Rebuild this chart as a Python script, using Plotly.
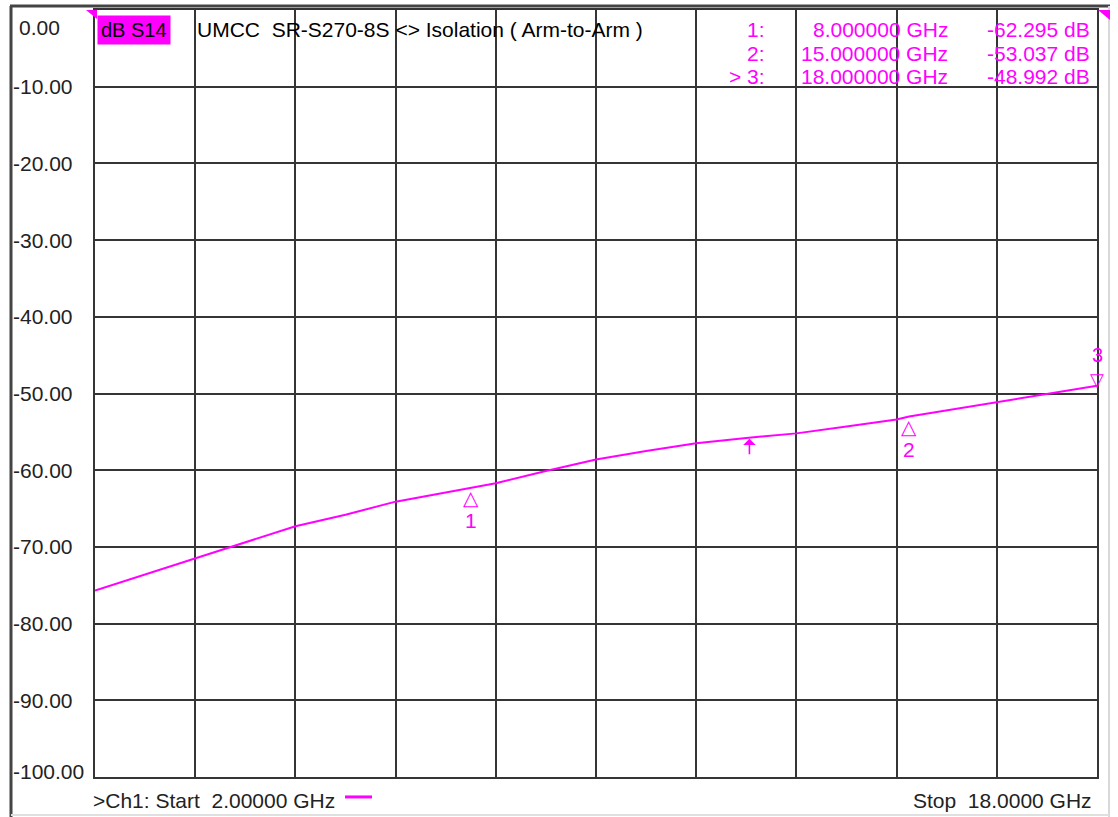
import plotly.graph_objects as go

# ---- data ----
freq_ghz = [2.0, 2.8, 3.6, 4.4, 5.2, 6.0, 6.8, 7.6, 8.0, 8.4, 9.2, 10.0, 10.8,
            11.6, 12.4, 13.2, 14.0, 14.8, 15.0, 15.6, 16.4, 17.2, 18.0]
s14_db = [-75.7, -73.6, -71.5, -69.4, -67.3, -65.8, -64.1, -62.9, -62.3, -61.7,
          -60.1, -58.6, -57.5, -56.5, -55.8, -55.2, -54.3, -53.4, -53.0, -52.2,
          -51.2, -50.1, -49.0]

marker_names = ["1", "2", "3"]
marker_freq = [8.0, 15.0, 18.0]
marker_db = [-62.295, -53.037, -48.992]
active_marker = "3"

ref_marker_freq = 12.45
ref_marker_db = -55.9

y_ticks = [0, -10, -20, -30, -40, -50, -60, -70, -80, -90, -100]
y_tick_labels = ["0.00", "-10.00", "-20.00", "-30.00", "-40.00", "-50.00",
                 "-60.00", "-70.00", "-80.00", "-90.00", "-100.00"]
x_start, x_stop, x_div = 2.0, 18.0, 10

title_param = "dB S14"
title_text = "UMCC&nbsp;&nbsp;SR-S270-8S &lt;&gt; Isolation ( Arm-to-Arm )"
start_text = "&gt;Ch1: Start&nbsp;&nbsp;2.00000 GHz"
stop_text = "Stop&nbsp;&nbsp;18.0000 GHz"

# ---- layout geometry ----
W, H = 1118, 817
L, R, T, B = 95, 1097, 8, 777
MAG = "#FF00FF"
GRID = "#353535"
FONT = "Liberation Sans"


def px(xp):
    return (xp - L) / (R - L)


def py(yp):
    return (B - yp) / (B - T)


fig = go.Figure()
fig.add_trace(go.Scatter(x=freq_ghz, y=s14_db, mode="lines",
                         line=dict(color=MAG, width=2), hoverinfo="skip",
                         showlegend=False))

ann = []
# y tick labels
for i, (v, lab) in enumerate(zip(y_ticks, y_tick_labels)):
    ys = 0
    xs = 0
    if i == 0:
        ys = -17
        xs = 6
    elif i == len(y_ticks) - 1:
        ys = 6
    ann.append(dict(x=px(11), xref="paper", y=v, yref="y", text=lab,
                    xanchor="left", yanchor="middle", showarrow=False,
                    xshift=xs, yshift=ys,
                    font=dict(family=FONT, size=21, color="#222")))

# header
ann.append(dict(x=px(97), xref="paper", y=py(28), yref="paper", text=title_param,
                xanchor="left", yanchor="middle", showarrow=False,
                bgcolor=MAG, borderpad=3,
                font=dict(family=FONT, size=20, color="#000")))
ann.append(dict(x=px(195), xref="paper", y=py(28), yref="paper", text=title_text,
                xanchor="left", yanchor="middle", showarrow=False,
                font=dict(family=FONT, size=21, color="#000")))

# marker readout
row_y = [28, 52, 75]
for i, (n, f, d) in enumerate(zip(marker_names, marker_freq, marker_db)):
    lab = ("&gt; " if n == active_marker else "") + n + ":"
    cols = [(767, lab), (950, f"{f:.6f} GHz"), (1092, f"{d:.3f} dB")]
    for cx, txt in cols:
        ann.append(dict(x=px(cx), xref="paper", y=py(row_y[i]), yref="paper",
                        text=txt, xanchor="right", yanchor="middle",
                        showarrow=False,
                        font=dict(family=FONT, size=21, color=MAG)))

# marker glyphs on trace
for n, f, d in zip(marker_names, marker_freq, marker_db):
    if n == active_marker:
        ann.append(dict(x=f, y=d, xref="x", yref="y", text="▽", showarrow=False,
                        xanchor="center", yanchor="bottom", yshift=-6,
                        font=dict(family="DejaVu Sans", size=18, color=MAG)))
        ann.append(dict(x=f, y=d, xref="x", yref="y", text="3", showarrow=False,
                        xanchor="center", yanchor="bottom", yshift=18,
                        font=dict(family=FONT, size=20, color=MAG)))
    else:
        ann.append(dict(x=f, y=d, xref="x", yref="y", text="△", showarrow=False,
                        xanchor="center", yanchor="top", yshift=4,
                        font=dict(family="DejaVu Sans", size=20, color=MAG)))
        ann.append(dict(x=f, y=d, xref="x", yref="y", text=n, showarrow=False,
                        xanchor="center", yanchor="top", yshift=-19,
                        font=dict(family=FONT, size=21, color=MAG)))

# reference marker arrow
ann.append(dict(x=ref_marker_freq, y=ref_marker_db, xref="x", yref="y",
                ax=0, ay=17, showarrow=True, arrowhead=1, arrowsize=1.3,
                arrowwidth=1.6, arrowcolor=MAG, text=""))

# footer
ann.append(dict(x=px(91), xref="paper", y=py(801), yref="paper", text=start_text,
                xanchor="left", yanchor="middle", showarrow=False,
                font=dict(family=FONT, size=21, color="#222")))
ann.append(dict(x=px(1094), xref="paper", y=py(801), yref="paper", text=stop_text,
                xanchor="right", yanchor="middle", showarrow=False,
                font=dict(family=FONT, size=21, color="#222")))

shapes = [
    # legend swatch
    dict(type="line", xref="paper", yref="paper", x0=px(345), x1=px(372),
         y0=py(797), y1=py(797), line=dict(color=MAG, width=3)),
    # outer frame
    dict(type="line", xref="paper", yref="paper", x0=px(10), x1=px(1110),
         y0=py(4), y1=py(4), line=dict(color="#444", width=3)),
    dict(type="line", xref="paper", yref="paper", x0=px(11), x1=px(11),
         y0=py(4), y1=py(817), line=dict(color="#444", width=3)),
    dict(type="line", xref="paper", yref="paper", x0=px(1109), x1=px(1109),
         y0=py(4), y1=py(817), line=dict(color="#d8d8d8", width=2)),
    dict(type="line", xref="paper", yref="paper", x0=px(11), x1=px(1109),
         y0=py(815), y1=py(815), line=dict(color="#e0e0e0", width=2)),
    # reference-level corner flags
    dict(type="path", xref="paper", yref="paper",
         path=f"M {px(86)} {py(8)} L {px(97)} {py(8)} L {px(97)} {py(17)} Z",
         fillcolor=MAG, line=dict(width=0)),
    dict(type="path", xref="paper", yref="paper",
         path=f"M {px(1098)} {py(8)} L {px(1110)} {py(8)} L {px(1110)} {py(18)} Z",
         fillcolor=MAG, line=dict(width=0)),
]

fig.update_layout(
    width=W, height=H,
    margin=dict(l=L, r=W - R, t=T, b=H - B, pad=0),
    paper_bgcolor="white", plot_bgcolor="white",
    annotations=ann, shapes=shapes,
    xaxis=dict(range=[x_start, x_stop], dtick=(x_stop - x_start) / x_div,
               tick0=x_start, showgrid=True, gridcolor=GRID, gridwidth=2,
               showline=True, linecolor=GRID, linewidth=2, mirror=True,
               showticklabels=False, ticks="", zeroline=False, fixedrange=True),
    yaxis=dict(range=[-100, 0], tickvals=y_ticks, showgrid=True, gridcolor=GRID,
               gridwidth=2, showline=True, linecolor=GRID, linewidth=2,
               mirror=True, showticklabels=False, ticks="", zeroline=False,
               fixedrange=True),
)

fig.write_html("out.html", config={"displayModeBar": False},
               post_script="document.body.style.margin='0';"
                           "document.body.style.overflow='hidden';")
